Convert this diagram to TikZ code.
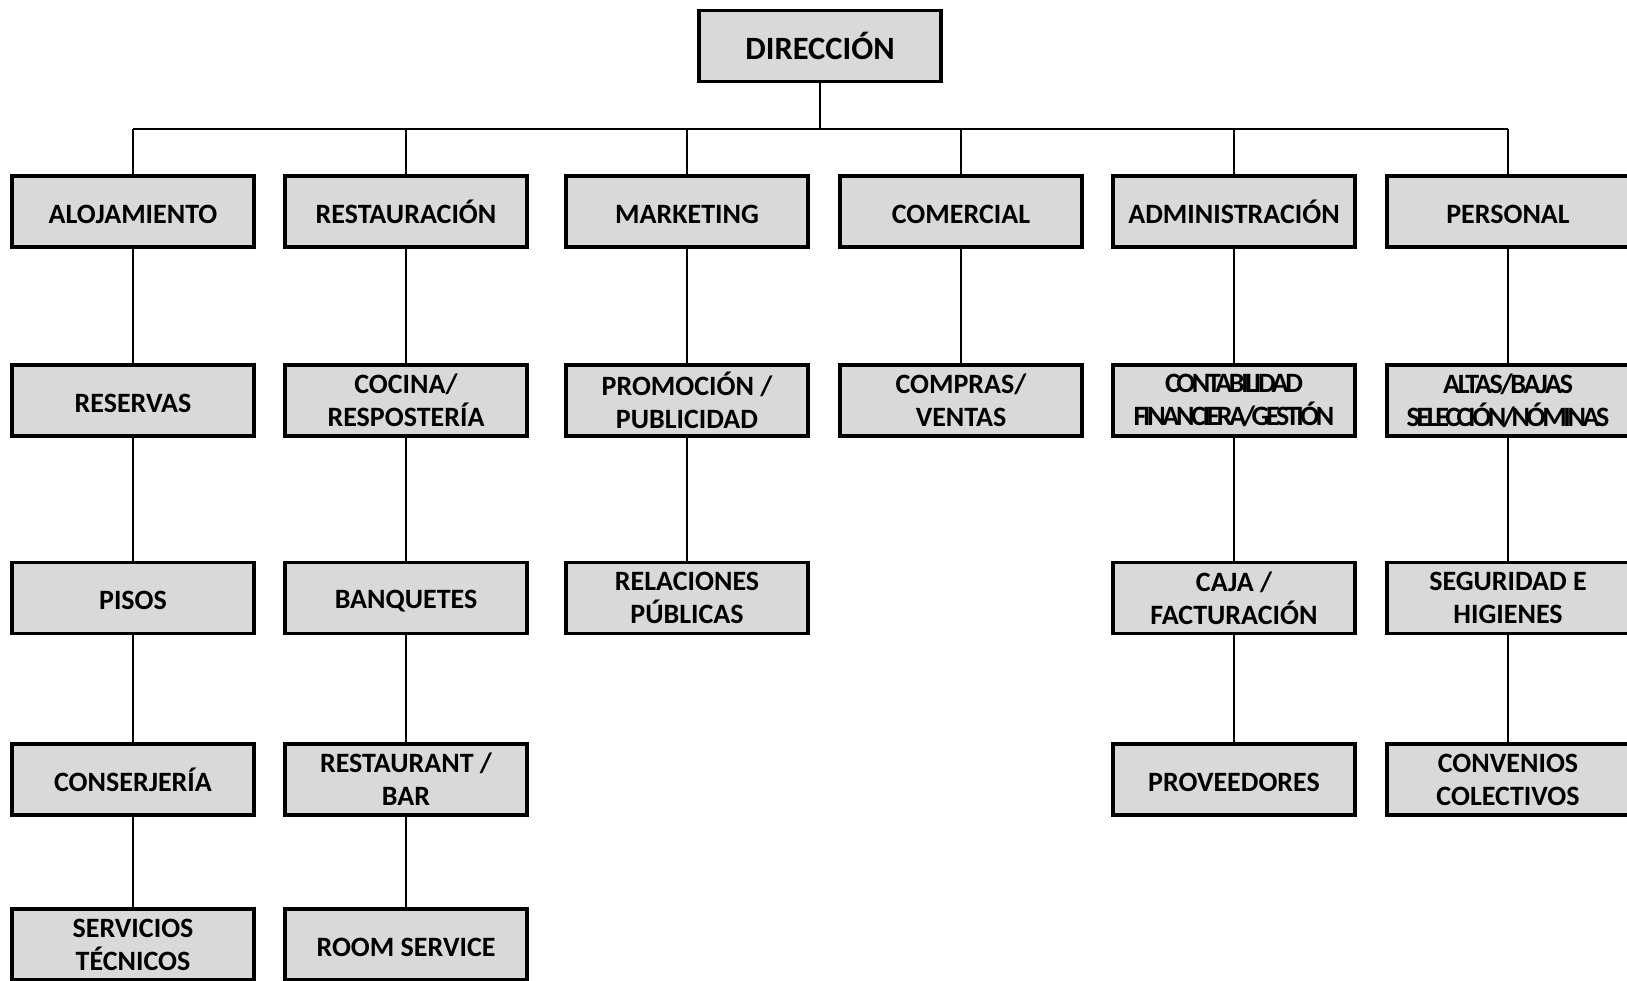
\documentclass[tikz,border=0pt]{standalone}
\usepackage{fontspec}
\setmainfont{Carlito}
\usetikzlibrary{backgrounds}
\definecolor{boxgray}{HTML}{D9D9D9}
% condensed caption lines with a given letter spacing
\newcommand{\tight}[2]{{\addfontfeature{LetterSpace=#1}#2}}
\tikzset{
  unit/.style={draw=black, line width=3.2pt, fill=boxgray,
    minimum width=242pt, minimum height=71pt, inner sep=0pt,
    align=center, font=\fontsize{28}{33}\selectfont\bfseries,
    execute at begin node={\vphantom{Ó}}},
  topunit/.style={unit, font=\fontsize{32.5}{36}\selectfont\bfseries},
  link/.style={line width=1.8pt, draw=black}
}
\begin{document}
\begin{tikzpicture}[x=1pt, y=-1pt]
\path[use as bounding box, clip] (0,0) rectangle (1627,980);

% top of the hierarchy
\node[topunit] (dir) at (820,46) {DIRECCIÓN};
\coordinate (bus) at (820,129);

% departments
\node[unit] (aloj) at (133,211.5) {ALOJAMIENTO};
\node[unit] (rest) at (406,211.5) {RESTAURACIÓN};
\node[unit] (mkt)  at (687,211.5) {MARKETING};
\node[unit] (com)  at (961,211.5) {COMERCIAL};
\node[unit] (adm)  at (1234,211.5) {ADMINISTRACIÓN};
\node[unit] (pers) at (1508,211.5) {PERSONAL};

% second level
\node[unit] (reserv) at (133,400.5) {RESERVAS};
\node[unit] (cocina) at (406,400.5) {COCINA/\\RESPOSTERÍA};
\node[unit] (promo)  at (687,400.5) {PROMOCIÓN /\\PUBLICIDAD};
\node[unit] (compras) at (961,400.5) {COMPRAS/\\VENTAS};
\node[unit] (conta)  at (1234,400.5) {\tight{-12}{CONTABILIDAD}\\\tight{-12}{FINANCIERA/GESTIÓN}};
\node[unit] (altas)  at (1508,400.5) {\tight{-8}{ALTAS/BAJAS}\\\tight{-12}{SELECCIÓN/NÓMINAS}};

% third level
\node[unit] (pisos)  at (133,598) {PISOS};
\node[unit] (banq)   at (406,598) {BANQUETES};
\node[unit] (relpub) at (687,598) {RELACIONES\\PÚBLICAS};
\node[unit] (caja)   at (1234,598) {CAJA /\\FACTURACIÓN};
\node[unit] (segur)  at (1508,598) {SEGURIDAD E\\HIGIENES};

% fourth level
\node[unit] (consej)  at (133,779.5) {CONSERJERÍA};
\node[unit] (restbar) at (406,779.5) {RESTAURANT /\\BAR};
\node[unit] (prov)    at (1234,779.5) {PROVEEDORES};
\node[unit] (conv)    at (1508,779.5) {CONVENIOS\\COLECTIVOS};

% fifth level
\node[unit] (servtec) at (133,944.5) {SERVICIOS\\TÉCNICOS};
\node[unit] (room)    at (406,944.5) {ROOM SERVICE};

\begin{scope}[on background layer]
  \draw[link] (dir.south) -- (bus);
  \draw[link] (aloj.north |- bus) -- (pers.north |- bus);
  \foreach \d in {aloj,rest,mkt,com,adm,pers}
    \draw[link] (\d.north) -- (\d.north |- bus);
  \foreach \a/\b in {aloj/reserv, reserv/pisos, pisos/consej, consej/servtec,
                     rest/cocina, cocina/banq, banq/restbar, restbar/room,
                     mkt/promo, promo/relpub,
                     com/compras,
                     adm/conta, conta/caja, caja/prov,
                     pers/altas, altas/segur, segur/conv}
    \draw[link] (\a.south) -- (\b.north);
\end{scope}
\end{tikzpicture}
\end{document}
